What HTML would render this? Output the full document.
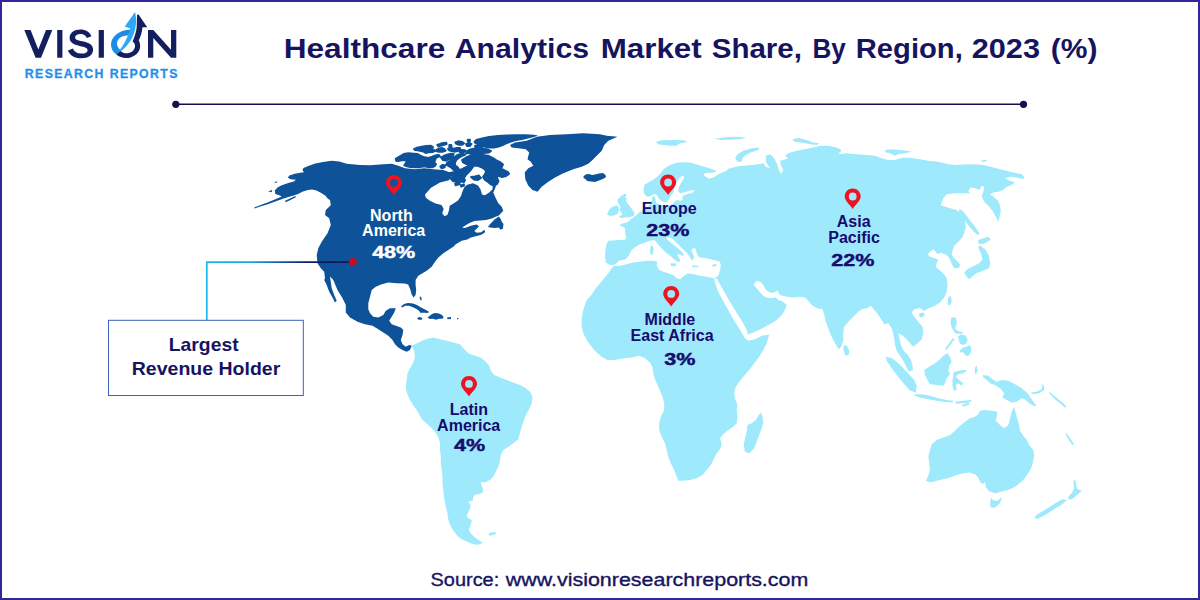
<!DOCTYPE html>
<html>
<head>
<meta charset="utf-8">
<title>Healthcare Analytics Market Share, By Region, 2023 (%)</title>
<style>
  html, body { margin: 0; padding: 0; background: #ffffff; }
  body { width: 1200px; height: 600px; overflow: hidden; position: relative; font-family: "Liberation Sans", sans-serif; }
  svg { position: absolute; left: 0; top: 0; display: block; }
  text { font-family: "Liberation Sans", sans-serif; }
  .lbl { font-weight: bold; font-size: 16px; fill: #150b70; text-anchor: middle; }
  .pct { font-weight: bold; font-size: 17.4px; fill: #150b70; stroke: #150b70; stroke-width: 0.45px; text-anchor: middle; }
  .w { fill: #ffffff; }
  text.pct.w { stroke: #ffffff; }
  .land { fill: #9fe9fc; }
  .na { fill: #0e529a; }
</style>
</head>
<body>
<svg width="1200" height="600" viewBox="0 0 1200 600">
  <defs>
    <linearGradient id="cg" x1="207" y1="0" x2="330" y2="0" gradientUnits="userSpaceOnUse">
      <stop offset="0" stop-color="#19b9ec"/>
      <stop offset="0.35" stop-color="#1aa6dc"/>
      <stop offset="0.62" stop-color="#17559c"/>
      <stop offset="0.8" stop-color="#0f1f6c"/>
      <stop offset="1" stop-color="#0d1660"/>
    </linearGradient>
    <g id="pin">
      <path fill-rule="evenodd" d="M0,20.4 C-2.2,16.6 -8,12.2 -8,7.9 C-8,3.4 -4.4,0 0,0 C4.4,0 8,3.4 8,7.9 C8,12.2 2.2,16.6 0,20.4 Z M0,4.0 A3.9,3.9 0 1 0 0,11.8 A3.9,3.9 0 1 0 0,4.0 Z" fill="#ee1320"/>
    </g>
  </defs>

  <!-- background + frame -->
  <rect x="0" y="0" width="1200" height="600" fill="#ffffff"/>
  <rect x="1" y="1" width="1198" height="598" fill="none" stroke="#30289a" stroke-width="2"/>

  <!-- MAP-START -->
  <g id="map">
    <path class="land" d="M411.7,345.8 415.0,344.2 420.0,341.7 425.8,339.2 433.3,337.5 440.0,339.2 446.7,340.8 453.3,342.5 460.0,344.2 463.3,348.3 468.3,353.3 475.0,355.8 480.8,357.5 485.8,361.7 489.2,365.8 490.8,370.8 494.2,375.0 500.0,377.5 506.7,380.0 513.3,382.5 520.0,385.0 525.8,388.3 530.8,392.5 532.5,397.5 531.7,403.3 529.2,409.2 525.8,415.0 523.3,421.7 521.7,426.7 520.0,433.3 518.3,439.2 513.3,443.3 508.3,446.7 503.3,450.0 500.8,455.0 500.0,460.8 498.3,466.7 495.8,471.7 493.3,476.7 490.0,480.0 485.0,482.5 480.8,481.7 481.7,485.8 483.3,490.0 482.3,492.9 475.3,494.7 473.0,497.0 473.0,500.5 468.3,501.7 470.7,505.2 469.5,509.8 467.2,514.5 467.2,517.4 471.8,520.3 470.7,525.0 468.9,529.7 470.7,533.2 474.2,536.7 478.8,540.2 482.9,542.5 480.0,544.3 476.5,544.8 471.8,543.7 466.0,541.3 460.2,538.4 456.1,534.3 452.6,529.7 449.7,523.8 447.9,518.0 447.3,512.2 445.6,506.3 444.5,500.5 443.8,494.7 443.3,490.0 442.5,483.3 442.5,476.7 441.7,470.0 440.8,463.3 440.8,456.7 440.0,450.0 440.0,443.3 438.3,436.7 434.2,430.8 428.3,425.0 422.5,420.0 420.0,415.8 416.7,410.0 412.5,404.2 409.2,398.3 406.7,392.5 405.8,386.7 406.7,380.0 407.5,373.3 410.0,368.3 413.3,362.5 415.0,356.7 414.2,350.8Z M488.2,534.3 490.5,532.6 495.8,532.2 495.8,534.1 492.8,535.3 489.3,535.5Z M608.2,240.8 615.2,240.3 625.1,239.7 626.3,237.3 625.1,232.7 625.1,228.0 619.3,225.1 623.3,223.3 627.4,222.2 631.5,218.7 636.2,215.2 641.0,211.0 646.0,207.5 651.0,204.0 652.0,199.5 652.3,196.8 654.2,196.2 655.5,198.0 655.6,200.7 656.8,203.6 661.0,205.0 666.0,205.5 672.0,204.5 675.8,200.6 678.0,200.0 680.5,201.0 683.0,199.2 681.9,197.0 684.0,195.2 687.5,194.0 692.5,192.8 695.0,190.2 691.0,190.3 686.3,191.8 680.0,193.2 678.3,191.0 679.0,187.0 681.0,183.0 683.5,179.0 684.2,176.5 682.5,175.6 679.8,177.6 677.2,181.3 675.2,185.3 674.5,188.8 673.5,192.2 670.8,195.8 669.3,198.6 667.5,201.8 664.5,202.2 662.0,201.2 660.0,199.8 658.5,198.0 657.3,195.8 655.4,194.1 652.5,194.9 649.0,196.7 645.5,196.1 643.8,192.6 643.8,188.5 644.3,185.0 647.8,182.7 652.5,180.3 657.2,176.8 660.7,173.3 663.0,169.8 666.5,166.9 671.2,164.6 677.0,162.8 684.0,162.3 691.0,162.8 696.8,164.6 702.7,166.3 708.5,168.1 713.8,169.8 716.7,171.6 712.0,172.8 707.3,172.8 703.3,173.9 705.0,176.3 708.5,178.6 712.0,178.0 715.5,176.3 719.0,173.9 722.5,172.2 726.0,171.0 728.3,168.7 733.0,167.5 740.0,166.0 745.0,165.8 751.7,165.0 758.3,164.2 763.3,163.3 765.8,166.7 770.0,168.3 765.8,161.7 765.8,155.8 770.0,154.2 774.2,158.3 776.7,163.3 778.3,168.3 780.8,174.2 783.3,170.0 780.8,165.0 780.0,160.8 783.3,160.0 788.3,158.3 785.0,155.8 788.3,153.3 796.7,150.8 805.0,149.2 813.3,147.5 820.0,145.8 828.3,145.8 836.7,147.5 841.7,150.0 838.3,154.2 846.7,153.3 856.7,154.2 866.7,155.0 875.0,155.8 881.7,158.3 888.3,160.0 895.0,160.0 903.3,157.5 911.7,158.0 920.0,159.2 928.3,160.8 938.3,161.7 948.3,164.2 956.7,165.0 966.7,164.2 973.3,164.2 983.3,165.0 993.3,167.5 1003.3,170.0 1013.3,172.5 1021.7,174.2 1024.2,176.7 1023.3,179.2 1016.7,177.5 1010.0,176.7 1005.0,178.3 1010.0,180.8 1015.0,182.5 1011.7,185.0 1006.7,186.7 1003.3,190.0 998.3,191.7 993.3,192.5 990.0,194.2 993.3,196.7 997.5,200.0 1000.0,205.0 1000.8,210.8 999.6,216.7 998.3,221.7 995.8,216.7 992.5,210.8 988.3,205.8 984.2,201.7 981.7,196.7 983.3,191.7 984.2,186.7 981.7,185.8 979.2,190.0 975.0,188.3 970.8,187.5 968.3,190.8 970.0,193.3 963.3,193.3 955.0,193.3 946.7,194.2 943.3,198.3 940.8,205.0 945.0,206.7 950.0,208.3 956.7,210.0 961.7,215.0 965.0,220.0 965.8,226.7 964.2,233.3 961.7,238.3 957.5,242.5 954.2,245.8 952.5,250.8 951.7,255.0 954.0,258.0 957.8,261.5 960.4,265.0 958.6,268.0 954.2,268.2 952.0,264.5 950.4,260.2 948.3,256.7 945.0,254.2 940.8,252.5 937.5,254.2 935.8,251.7 933.3,249.2 930.0,251.7 927.5,254.2 930.0,256.7 935.0,258.3 938.3,260.0 936.7,263.3 935.8,266.7 939.2,270.0 943.3,273.3 946.7,278.3 947.5,285.0 946.7,291.7 944.2,297.5 940.0,302.5 935.0,305.8 928.3,308.3 924.0,311.0 921.0,308.5 918.3,308.3 914.2,309.2 911.7,312.5 914.2,316.7 918.3,321.7 922.5,326.7 923.3,333.3 921.7,339.2 917.5,343.3 913.3,346.7 910.8,344.2 906.7,339.2 901.7,335.0 898.3,333.3 899.8,340.0 901.0,345.6 903.8,351.0 908.0,355.0 911.0,360.2 912.6,366.0 912.8,370.6 908.6,371.0 906.0,366.0 903.4,361.0 900.2,356.0 896.6,350.6 895.1,345.2 894.5,340.0 893.3,334.2 891.7,328.3 888.3,323.3 884.2,324.2 881.7,320.0 878.3,315.0 875.0,310.8 870.8,305.8 866.7,308.3 861.7,309.2 858.3,311.7 853.3,316.7 848.3,321.7 844.2,326.7 843.3,333.3 843.3,340.0 841.7,345.8 839.2,349.2 837.5,347.5 834.2,341.7 830.8,335.0 828.3,328.3 825.8,321.7 824.2,315.0 822.5,309.2 816.7,308.3 811.7,305.0 808.3,300.8 805.0,297.5 800.0,296.7 793.3,297.5 786.7,296.7 780.0,295.0 777.5,290.6 774.5,292.4 770.0,292.8 766.3,290.3 764.0,286.4 761.5,282.4 757.0,280.8 753.6,284.2 756.5,288.0 759.4,291.6 762.5,295.2 766.8,297.8 771.5,298.3 775.0,297.2 777.0,298.4 779.0,300.4 781.7,300.8 786.7,305.0 785.0,310.0 781.7,315.0 776.7,320.0 771.7,323.3 766.7,326.0 760.0,329.6 753.3,332.5 746.7,335.0 744.2,337.5 748.3,340.8 755.0,339.2 761.7,335.8 769.2,334.5 766.7,343.3 763.3,350.0 759.2,356.7 754.2,363.3 749.2,370.0 744.2,375.8 739.2,381.7 735.8,386.7 734.2,392.5 735.0,398.3 737.5,405.0 736.7,410.0 737.5,416.7 736.7,423.3 733.3,426.7 728.3,430.0 723.3,434.2 720.0,438.3 721.7,444.2 720.0,449.2 716.7,453.3 714.2,458.3 710.8,465.0 706.7,470.0 702.5,475.0 696.7,478.3 690.0,480.0 683.3,480.8 678.3,480.8 676.7,476.7 674.2,470.0 670.8,463.3 668.3,456.7 666.7,450.0 665.0,443.3 661.7,436.7 659.2,430.0 659.2,423.3 660.8,416.7 664.2,410.0 664.2,403.3 662.5,396.7 660.0,390.8 657.5,385.0 655.0,379.2 653.3,373.3 652.5,367.5 650.0,362.5 645.0,358.3 639.2,355.8 631.7,357.5 623.3,358.3 615.0,360.0 607.5,360.0 601.7,356.7 595.8,351.7 590.8,345.8 586.7,340.0 583.3,333.3 581.7,326.7 581.7,320.0 582.5,313.3 584.2,306.7 586.7,300.0 590.0,296.7 592.5,293.3 595.8,288.3 600.0,283.3 604.2,278.3 608.3,273.3 611.7,268.3 615.0,265.0 610.0,265.0 605.8,262.5 605.0,256.7 605.5,250.0 606.5,244.5Z M617.5,199.5 620.0,197.0 622.5,195.0 625.5,193.5 626.5,195.0 625.0,197.5 627.0,198.5 626.0,201.0 628.0,204.0 630.5,207.0 632.5,210.0 634.5,213.0 634.0,215.5 630.0,217.0 625.0,217.5 621.0,218.0 619.0,216.5 622.5,214.5 621.0,212.0 619.5,210.0 620.5,207.0 619.0,204.0 617.5,202.0Z M607.0,214.5 609.0,210.0 612.0,207.0 616.0,205.5 618.6,206.5 619.0,210.0 618.0,213.5 614.0,215.5 610.0,216.0Z M655.8,141.7 661.7,140.3 673.3,140.0 683.3,140.3 687.5,142.0 680.0,143.3 676.7,145.8 670.0,145.8 663.3,145.0 658.3,144.2Z M714.2,138.7 723.3,137.5 733.3,136.7 746.7,137.5 740.0,139.2 731.7,139.7 721.7,140.0Z M735.0,158.3 737.5,154.2 743.3,150.8 751.7,148.3 759.2,147.5 758.3,150.0 750.8,152.5 745.8,155.0 742.5,158.3 741.7,161.7 737.5,161.7Z M792.5,139.2 798.3,138.0 806.7,140.0 813.3,142.5 819.2,143.3 816.7,145.0 810.0,144.2 801.7,142.5 794.2,141.7Z M885.0,150.0 891.7,149.2 900.0,150.0 906.7,150.8 911.7,151.7 905.0,153.3 898.3,154.2 895.0,155.8 890.0,153.3 885.8,152.5Z M980.8,160.5 985.8,160.0 987.5,161.3 982.5,162.0Z M959.5,209.0 962.8,211.0 966.8,216.0 971.3,222.0 976.0,228.0 979.3,233.3 978.3,235.6 974.6,232.6 969.3,226.4 964.6,220.2 960.8,215.0 958.8,211.5Z M978.3,240.0 983.3,238.3 988.3,236.7 990.8,239.2 986.7,242.5 981.7,244.2 978.3,243.3Z M979.7,245.3 985.3,249.3 988.7,255.3 990.3,263.3 989.0,268.2 983.0,270.8 976.3,273.3 972.0,276.7 969.3,279.2 966.3,276.3 964.2,272.3 968.0,268.7 973.7,266.0 979.3,263.3 982.3,259.7 981.5,255.0 980.0,251.2 978.3,247.7Z M948.3,297.5 950.8,295.8 951.7,300.8 950.0,305.8 947.5,304.2Z M919.2,313.3 923.3,312.5 925.0,315.0 921.7,317.5 919.2,316.7Z M844.2,345.0 846.7,345.8 849.2,350.0 849.2,354.2 845.8,355.8 844.2,352.5 843.3,348.3Z M760.8,412.5 762.5,416.7 763.3,422.5 761.7,428.3 759.2,435.0 756.7,441.7 754.2,448.3 749.2,453.3 745.0,451.7 743.7,445.0 745.0,438.3 746.7,431.7 747.5,425.0 751.7,423.3 755.8,420.0 758.3,415.8Z M886.0,356.7 892.0,358.3 897.3,362.3 903.3,368.2 909.3,374.8 914.3,380.0 916.8,386.3 915.7,392.7 909.7,390.3 904.3,384.3 899.2,378.3 894.2,371.7 890.0,365.8 886.7,361.0Z M914.2,394.2 921.7,394.2 930.0,395.8 938.3,398.3 946.7,400.0 953.3,400.8 952.5,402.5 945.0,402.0 936.7,400.8 928.3,399.2 920.0,397.5 915.0,395.8Z M955.0,401.7 963.3,400.8 971.7,400.0 970.8,402.0 963.3,403.3 956.7,403.7Z M961.7,405.0 968.3,402.5 970.0,404.2 963.3,406.7Z M924.2,370.0 929.2,366.7 935.0,363.3 940.0,359.2 944.2,355.0 947.5,353.3 950.0,356.7 951.7,361.7 949.2,365.8 948.3,370.8 950.0,374.2 946.7,378.3 945.0,383.3 943.3,385.8 936.7,385.0 930.0,384.2 927.5,380.0 925.0,375.0Z M953.3,372.5 958.3,370.8 965.0,370.0 967.5,370.8 963.3,373.3 958.3,374.2 955.8,376.7 959.2,380.0 963.3,383.3 961.7,385.8 958.3,383.3 955.8,385.0 956.7,390.0 954.2,390.8 952.5,385.8 952.5,380.0 953.3,375.8Z M951.3,317.5 955.6,317.5 956.9,321.3 956.3,325.0 955.0,328.8 958.8,331.3 963.1,331.9 962.5,333.8 958.1,333.8 955.0,333.1 953.1,330.0 951.3,326.3 950.6,321.9Z M958.1,336.3 961.3,334.6 965.6,335.6 967.5,339.4 966.9,343.1 963.1,345.0 960.0,343.8 958.8,340.0Z M945.0,348.8 948.8,343.8 953.1,338.1 954.6,338.9 950.2,345.2 946.3,350.0Z M959.4,351.3 962.5,348.1 967.5,346.3 970.0,345.0 971.3,348.8 970.6,353.1 968.1,356.3 965.0,355.0 963.1,351.9 960.6,352.5Z M975.0,367.5 976.7,365.8 977.5,370.8 975.8,375.0 974.7,371.7Z M982.5,375.0 988.3,375.8 992.5,379.2 996.7,381.7 1001.7,380.0 1008.3,380.8 1015.0,384.2 1021.7,388.3 1026.7,392.5 1030.0,396.7 1033.3,401.7 1036.7,405.8 1033.3,405.8 1028.3,402.5 1025.0,399.2 1021.7,398.3 1016.7,401.7 1011.7,402.5 1006.7,400.0 1002.5,397.5 1004.2,393.3 1000.0,388.3 995.0,385.0 990.0,383.3 986.7,380.0 983.3,377.5Z M1030.8,392.5 1036.7,391.7 1041.7,389.2 1042.5,385.8 1040.0,383.3 1044.2,385.8 1044.2,390.0 1039.2,393.3 1033.3,394.2Z M1048.3,390.8 1053.3,395.0 1058.3,399.2 1063.3,403.3 1066.7,406.7 1065.0,407.5 1060.0,403.3 1055.0,399.2 1050.0,394.2Z M925.8,480.8 928.3,475.8 930.0,470.0 929.2,463.3 928.3,456.7 930.0,450.0 931.7,444.2 936.7,440.0 943.3,437.5 950.0,435.0 955.0,430.8 960.0,425.8 965.0,421.7 970.0,418.3 975.0,416.7 978.3,414.2 980.0,410.8 985.0,410.0 991.7,410.8 997.5,411.7 996.7,416.7 995.8,420.8 1000.0,425.0 1004.2,428.3 1008.3,425.0 1010.0,418.3 1011.7,411.7 1014.2,406.7 1015.8,413.3 1017.5,419.2 1019.2,425.0 1020.0,430.8 1023.3,435.8 1026.7,440.0 1029.2,445.0 1033.3,450.0 1034.2,455.0 1033.3,460.8 1031.7,466.7 1029.2,471.7 1025.8,476.7 1022.5,480.8 1018.3,484.2 1015.0,486.7 1010.0,489.2 1005.0,490.8 1000.0,491.7 996.7,493.3 992.5,492.5 988.3,490.8 985.8,486.7 985.0,481.7 982.5,484.2 980.0,481.7 978.3,477.5 975.0,474.2 969.2,472.5 963.3,473.3 956.7,475.0 950.0,477.5 943.3,479.2 936.7,480.8 930.8,482.5Z M1065.8,431.7 1068.3,435.8 1071.7,440.8 1074.2,444.2 1072.5,445.0 1069.2,440.8 1066.3,435.8Z M990.9,497.4 993.2,500.3 997.3,500.9 1000.2,498.6 1001.4,496.8 1001.4,499.8 999.7,503.2 996.8,506.2 993.2,507.9 990.6,507.3 990.1,503.8 990.6,500.3Z M1073.2,480.5 1075.5,480.5 1076.1,485.2 1077.2,488.7 1081.9,491.0 1079.0,493.3 1075.5,496.2 1072.0,499.2 1069.1,499.8 1067.9,497.4 1069.7,495.1 1072.0,492.8 1073.8,489.2 1073.8,484.6Z M1067.9,499.8 1065.0,501.5 1062.7,503.8 1059.2,506.2 1054.5,509.1 1049.8,512.0 1045.2,514.9 1040.5,517.2 1037.0,519.0 1034.7,517.8 1035.8,515.5 1040.5,512.6 1045.2,509.7 1049.8,506.8 1054.5,503.8 1059.2,500.9 1062.7,499.2 1065.0,499.8Z"/>
    <path class="w" d="M613.0,264.8 615.0,264.2 619.2,260.8 625.8,259.2 629.2,255.0 631.7,250.0 635.8,246.7 640.0,244.2 645.0,242.5 650.0,240.8 654.2,240.0 656.7,242.5 659.2,245.8 662.5,249.2 665.8,252.5 669.2,255.0 673.0,258.3 676.5,261.3 679.3,262.3 680.3,260.0 678.3,257.0 677.0,254.6 680.0,254.2 682.8,256.3 683.8,254.5 681.5,251.5 678.0,248.5 674.5,245.5 671.0,242.8 668.0,240.2 666.0,237.8 669.0,237.6 673.0,239.3 676.3,242.5 679.5,245.8 683.0,249.2 686.5,252.5 689.5,256.5 692.0,260.5 694.3,258.0 693.0,254.0 691.5,251.0 692.5,248.6 695.5,248.6 696.3,251.7 697.5,255.0 700.0,257.5 706.7,258.3 713.3,260.0 720.0,261.7 720.8,265.8 720.0,270.8 718.3,275.8 714.2,278.3 706.7,276.7 700.0,275.8 693.3,274.2 688.3,273.3 684.2,275.8 680.0,279.2 676.7,278.3 673.3,275.0 668.3,273.3 663.3,271.7 659.2,270.0 656.7,265.8 657.5,261.7 653.3,260.8 646.7,260.8 640.0,261.7 633.3,262.5 626.7,264.2 620.0,265.8 615.8,266.0Z M714.0,278.3 717.0,278.8 720.5,285.3 724.8,292.8 729.0,300.3 733.0,306.8 737.2,313.8 741.4,320.3 745.6,327.6 748.0,333.3 745.3,338.3 742.6,334.2 738.8,327.8 734.5,321.3 730.3,313.8 726.0,306.3 722.0,298.8 718.0,291.3 715.5,284.3Z"/>
    <path class="land" d="M650.7,246.0 653.0,245.5 653.6,250.0 652.5,254.5 650.5,254.5 650.0,250.0Z M670.5,263.3 676.5,263.6 675.3,266.6 671.0,266.0Z M692.0,265.5 698.5,265.8 698.5,267.3 692.0,267.0Z M712.0,265.0 716.5,263.8 716.0,266.3 712.5,266.6Z"/>
    <path class="na" d="M254.2,207.4 261.3,204.7 268.8,202.0 276.4,198.8 281.8,196.6 278.6,195.0 275.3,193.9 274.8,190.6 277.5,187.4 281.8,185.2 288.3,183.0 293.8,181.4 295.9,179.8 290.5,179.3 287.8,177.6 289.4,175.5 294.8,173.8 300.3,172.8 304.0,172.2 302.4,170.0 303.5,167.9 308.9,165.7 315.4,163.5 323.0,161.9 331.7,160.8 339.3,161.4 346.7,163.7 360.0,165.0 370.0,165.3 383.3,164.2 391.7,163.7 398.3,165.8 405.0,168.3 415.0,169.2 424.2,168.3 433.3,169.2 443.3,170.0 453.0,173.5 449.0,180.2 440.0,182.5 431.0,187.7 425.0,194.5 425.7,197.5 429.5,200.5 435.5,203.5 441.5,205.0 443.7,208.7 442.2,213.2 444.5,216.2 447.5,214.7 449.0,210.2 449.7,205.7 453.5,203.5 458.0,200.5 461.0,196.0 462.5,191.5 464.0,187.7 467.0,184.7 473.0,183.2 478.0,185.5 480.5,189.2 482.0,194.5 485.0,195.2 489.5,192.2 492.5,189.2 493.3,181.0 495.8,186.7 493.3,192.5 495.8,198.3 498.3,203.3 501.7,206.7 503.3,210.8 500.0,214.2 498.8,215.5 495.0,217.0 491.8,218.4 486.0,219.9 480.2,220.5 474.3,221.1 468.5,223.4 462.1,227.5 465.0,228.1 470.8,225.8 476.7,224.6 479.0,226.3 476.7,228.7 474.3,231.0 476.7,232.8 481.3,232.2 484.3,229.8 485.2,232.2 481.3,234.7 476.7,235.9 470.8,237.6 467.3,239.4 461.7,240.8 455.8,244.2 453.3,246.7 448.3,250.0 443.3,253.3 438.3,257.5 435.0,261.7 431.7,266.7 426.7,270.8 422.5,273.3 418.3,275.8 415.6,280.0 415.6,285.0 416.2,290.0 415.6,295.0 413.6,297.6 411.6,294.3 410.2,289.3 408.2,284.6 404.6,283.6 396.7,283.3 388.3,282.5 381.7,284.2 375.8,286.7 371.7,290.0 370.0,296.7 368.3,303.3 368.3,309.2 370.0,313.3 373.3,316.7 378.3,317.5 383.3,315.0 385.8,310.8 390.0,308.3 395.8,308.3 394.2,312.5 391.7,316.7 389.2,320.8 391.7,324.2 395.8,325.8 400.8,327.5 403.3,330.0 402.5,335.0 400.8,340.0 402.5,344.2 405.8,346.7 409.2,345.0 411.7,345.8 410.0,350.0 406.7,351.7 402.5,350.0 398.3,347.5 395.0,344.2 392.5,340.0 388.3,335.8 383.3,332.5 378.3,329.2 372.5,325.8 365.0,324.2 357.5,321.7 350.0,317.5 345.8,312.5 345.8,305.0 342.5,298.3 337.5,290.0 333.3,280.0 330.0,276.5 331.7,288.3 334.2,295.0 336.7,300.8 335.0,302.5 332.5,297.5 329.2,291.7 326.7,285.0 324.2,280.0 325.0,278.3 324.2,271.7 320.8,268.3 317.5,263.3 316.7,255.0 318.3,248.3 321.7,241.7 327.5,233.3 330.8,225.0 329.2,218.3 325.0,215.0 325.8,210.0 329.2,206.7 330.8,205.0 330.0,200.0 327.9,198.8 325.2,195.5 320.8,192.8 316.5,190.6 312.2,189.5 307.8,190.1 302.4,191.7 298.1,193.9 293.8,195.5 288.3,197.1 282.9,198.8 275.3,201.5 267.8,204.2 260.2,206.5 254.5,208.4Z M510.0,145.0 515.0,142.5 526.7,140.8 536.7,136.7 550.0,135.0 566.7,134.2 583.3,133.3 600.0,134.2 606.7,135.8 617.5,136.7 608.3,140.8 604.2,145.0 601.7,150.8 596.7,155.8 592.5,160.0 588.3,163.7 581.7,166.7 573.3,169.2 563.3,173.3 555.0,177.5 548.3,181.7 541.7,186.7 537.5,191.7 532.5,190.0 528.3,185.8 525.3,179.2 524.7,172.5 528.3,168.3 533.3,165.8 530.8,161.7 527.5,159.2 529.2,152.5 525.8,149.2 518.3,148.3 511.7,147.5Z M583.5,176.5 585.5,174.5 589.0,174.0 592.0,175.0 595.0,174.5 599.0,173.5 603.0,173.0 605.5,175.0 606.0,177.0 603.0,179.0 599.0,180.5 595.0,182.0 591.0,181.5 587.0,181.0 585.5,179.0 583.5,178.0Z M284.5,200.9 290.5,198.2 295.4,196.0 295.9,197.3 290.5,200.0 286.2,202.0Z M274.0,182.2 277.2,181.2 276.6,183.0Z M268.0,191.2 272.3,190.1 271.7,192.2Z M487.8,226.9 490.7,223.4 494.8,219.3 498.8,216.6 500.6,218.8 501.8,221.7 503.5,224.0 502.9,228.7 500.6,229.8 498.8,227.5 495.3,228.1 491.8,227.7Z M401.0,306.5 404.0,304.0 408.0,303.0 413.0,303.5 417.0,305.0 421.0,307.5 425.0,309.5 428.7,311.5 428.2,313.0 424.0,312.7 420.0,312.7 419.3,311.0 417.0,309.2 413.0,307.2 409.0,305.7 405.0,305.7 402.5,307.4Z M419.5,297.0 421.0,296.5 421.8,300.0 420.5,300.5Z M427.5,317.5 429.5,316.0 432.0,314.0 435.0,313.0 439.0,313.5 442.0,315.0 443.6,317.0 442.6,318.7 439.0,318.7 436.0,319.7 433.0,318.7 430.0,319.0Z M417.0,318.0 419.5,316.9 422.5,318.0 421.5,319.7 418.5,319.7Z M447.0,317.4 451.0,317.1 451.0,319.1 447.5,319.3Z M457.0,318.0 458.4,318.0 458.4,319.2 457.0,319.2Z M473.5,141.5 476.0,139.0 482.0,137.5 489.0,136.0 498.0,135.0 507.0,134.5 516.0,134.2 525.0,134.2 534.0,134.8 538.0,135.5 534.0,137.0 528.0,138.5 522.0,140.0 516.0,141.0 511.0,142.5 507.0,144.0 503.0,146.0 499.0,147.5 494.0,148.5 489.0,148.5 484.0,147.5 480.0,146.0 476.0,144.5 474.0,143.0Z"/>
    <path class="na" stroke="#0e529a" stroke-width="1.9" stroke-linejoin="round" d="M452.8,177.9 456.8,176.2 459.2,178.5 455.1,180.8Z M455.1,183.8 459.2,182.6 459.8,184.1 455.7,185.3Z M460.9,185.5 463.8,184.3 464.1,185.7 461.3,186.7Z M395.7,158.7 399.0,156.7 403.7,154.0 408.3,153.3 413.7,153.7 417.7,154.0 421.0,156.0 424.3,157.3 428.3,158.0 432.3,156.7 435.7,155.3 439.0,155.0 439.7,156.3 436.3,157.7 435.0,160.0 434.3,162.7 436.0,164.0 435.0,166.0 432.3,167.3 428.3,167.3 425.0,166.3 421.7,166.7 418.3,167.3 414.3,167.3 410.3,167.0 407.0,166.3 404.3,165.3 405.7,163.3 406.7,161.3 405.0,160.0 401.7,160.3 398.3,161.0 396.0,160.7Z M414.0,149.0 417.0,147.7 421.7,146.7 426.3,146.0 431.0,145.7 433.0,147.0 431.0,148.7 433.7,149.7 435.0,151.0 432.3,152.0 428.3,152.3 425.7,153.0 423.7,151.7 421.0,151.0 417.7,150.3 415.0,150.0Z M437.3,145.0 441.7,143.3 446.3,142.7 446.7,144.0 442.3,145.3 438.3,146.3Z M436.0,150.3 438.3,148.7 441.7,148.0 444.3,149.0 445.7,150.7 443.0,151.7 439.0,151.7 436.7,151.3Z M448.0,148.7 450.3,147.7 453.7,148.7 457.0,148.0 460.0,148.0 460.3,149.7 457.7,151.0 454.3,151.7 451.7,151.0 449.0,150.3Z M455.3,142.3 458.3,141.3 462.3,142.0 464.0,143.3 462.3,144.7 458.3,144.7 456.0,143.7Z M449.3,145.0 451.3,145.0 451.7,146.7 449.3,146.7Z M467.7,139.7 470.0,139.7 470.0,141.0 467.7,141.0Z M459.3,151.0 461.7,150.0 465.0,150.3 465.7,151.7 462.3,152.5 459.7,152.1Z M441.0,157.3 443.7,156.0 447.0,154.7 451.0,153.7 453.7,154.0 453.0,156.0 451.0,158.0 448.3,159.7 445.7,160.7 443.0,160.0 441.7,158.7Z M455.0,156.7 457.7,154.7 461.7,154.0 465.7,154.3 462.3,156.0 459.0,157.7 456.3,160.0 455.0,162.7 455.0,165.3 457.7,167.3 459.0,169.3 456.3,171.3 453.7,170.0 451.0,167.3 448.3,166.0 446.3,164.7 447.0,162.7 449.7,161.3 452.3,159.3Z M440.3,166.7 442.3,165.0 445.0,165.3 444.7,167.3 441.7,168.3Z M459.0,171.3 461.7,169.3 464.0,168.0 468.0,166.5 472.0,165.5 473.0,167.0 470.3,169.5 467.5,171.5 465.5,174.0 462.0,175.0 459.5,174.5Z M466.0,151.5 470.0,149.5 475.0,148.5 482.0,148.5 488.0,149.5 491.0,151.0 489.0,152.5 483.0,153.0 477.0,153.2 471.0,153.5 467.0,153.0Z M466.0,144.0 469.0,142.5 471.5,144.0 470.0,146.0 467.0,146.0Z M475.0,146.0 480.0,145.0 484.0,146.0 480.0,147.8 475.5,147.5Z M462.0,160.0 466.0,157.5 471.0,155.5 477.0,155.0 483.0,155.0 489.0,156.0 493.0,158.0 496.0,160.0 500.0,162.0 503.0,164.5 502.0,167.0 500.0,168.5 504.0,170.0 508.0,172.0 509.0,174.0 506.0,176.0 502.0,177.0 498.0,175.5 497.0,178.0 498.5,181.0 497.0,184.0 494.0,186.0 491.0,184.5 488.0,182.0 485.0,180.0 483.0,177.0 485.0,174.0 486.0,172.0 485.0,169.5 481.0,167.0 477.0,165.5 473.0,166.0 470.0,165.0 466.0,164.0 463.0,162.5Z M471.0,177.0 475.0,176.5 479.0,175.5 481.0,178.0 478.0,180.0 474.0,179.5Z M460.0,178.0 463.0,177.0 465.0,180.0 464.0,182.0 460.0,181.5Z M440.2,171.7 448.3,173.4 455.3,171.7 460.0,169.9 464.7,168.2 469.3,167.0 471.7,168.8 469.3,171.7 465.8,175.2 463.5,178.7 460.0,181.0 456.5,182.2 453.0,181.0 450.7,178.7 453.0,175.2 448.3,174.6Z"/>
  </g>
  <!-- MAP-END -->

  <!-- title -->
  <g id="title" font-size="27" font-weight="bold" fill="#17145f">
    <text x="283.7" y="58.4" textLength="161.6" lengthAdjust="spacingAndGlyphs">Healthcare</text>
    <text x="454.7" y="58.4" textLength="134.5" lengthAdjust="spacingAndGlyphs">Analytics</text>
    <text x="600.8" y="58.4" textLength="100.9" lengthAdjust="spacingAndGlyphs">Market</text>
    <text x="711.7" y="58.4" textLength="90.3" lengthAdjust="spacingAndGlyphs">Share,</text>
    <text x="812.5" y="58.4" textLength="33.3" lengthAdjust="spacingAndGlyphs">By</text>
    <text x="855.8" y="58.4" textLength="107.0" lengthAdjust="spacingAndGlyphs">Region,</text>
    <text x="971.7" y="58.4" textLength="68.3" lengthAdjust="spacingAndGlyphs">2023</text>
    <text x="1050.8" y="58.4" textLength="46.7" lengthAdjust="spacingAndGlyphs">(%)</text>
  </g>

  <!-- rule -->
  <line x1="176" y1="104.3" x2="1023.5" y2="104.3" stroke="#15104e" stroke-width="1.6"/>
  <circle cx="175.8" cy="104.3" r="3.6" fill="#15104e"/>
  <circle cx="1023.5" cy="104.3" r="3.6" fill="#15104e"/>

  <!-- callout -->
  <path d="M206.8,320 L206.8,262.1" stroke="#19b9ec" stroke-width="1.7" fill="none"/>
  <path d="M206,262.1 L352,262.1" stroke="url(#cg)" stroke-width="1.7" fill="none"/>
  <circle cx="352.8" cy="262.1" r="4" fill="#c4101c"/>
  <rect x="108.5" y="320.3" width="194.8" height="75.2" fill="#ffffff" stroke="#3d62b8" stroke-width="1"/>
  <text transform="translate(203.7,350.5) scale(1.05,1)" font-size="18.4" font-weight="bold" fill="#17145f" text-anchor="middle">Largest</text>
  <text transform="translate(206,374.8) scale(1.06,1)" font-size="18.4" font-weight="bold" fill="#17145f" text-anchor="middle">Revenue Holder</text>

  <!-- pins -->
  <use href="#pin" x="393.9" y="174.9"/>
  <use href="#pin" x="668.1" y="174.6"/>
  <use href="#pin" x="852.7" y="188.6"/>
  <use href="#pin" x="671.2" y="286"/>
  <use href="#pin" x="469" y="376"/>

  <!-- labels -->
  <text class="lbl w" x="391.4" y="220.5">North</text>
  <text class="lbl w" x="393.7" y="236.1">America</text>
  <text class="pct w" transform="translate(393.7,258.1) scale(1.24,1)">48%</text>

  <text class="lbl" x="669.2" y="213.5">Europe</text>
  <text class="pct" transform="translate(667.8,236.1) scale(1.24,1)">23%</text>

  <text class="lbl" x="853.7" y="227.2">Asia</text>
  <text class="lbl" x="854.1" y="243">Pacific</text>
  <text class="pct" transform="translate(852.9,265.7) scale(1.24,1)">22%</text>

  <text class="lbl" x="669.9" y="324.5">Middle</text>
  <text class="lbl" x="672.1" y="340.5">East Africa</text>
  <text class="pct" transform="translate(679.8,365.2) scale(1.24,1)">3%</text>

  <text class="lbl" x="468.9" y="414.5">Latin</text>
  <text class="lbl" x="468.7" y="430.5">America</text>
  <text class="pct" transform="translate(469.6,451.2) scale(1.24,1)">4%</text>

  <!-- source -->
  <g id="src" font-size="18.3" fill="#17145f" stroke="#17145f" stroke-width="0.35">
    <text x="430.6" y="586.2" textLength="68.6" lengthAdjust="spacingAndGlyphs">Source:</text>
    <text x="505.8" y="586.2" textLength="302.5" lengthAdjust="spacingAndGlyphs">www.visionresearchreports.com</text>
  </g>

  <!-- LOGO-START -->
  <g id="logo">
    <!-- V -->
    <path d="M24.3,30 L30.6,30 L38.3,49.5 L46,30 L52.3,30 L41,57.7 L35.6,57.7 Z" fill="#131f5e"/>
    <!-- I -->
    <rect x="57.2" y="30" width="5.2" height="27.7" fill="#131f5e"/>
    <!-- S -->
    <path d="M91.5,36.2 C89.6,31.9 85.6,29.5 80.6,29.5 C74.2,29.5 69.6,32.9 69.6,37.8 C69.6,42.6 73.4,44.6 79.6,45.9 C85.2,47.1 87.6,47.9 87.6,50.2 C87.6,52.3 85.1,53.6 81.3,53.6 C77.1,53.600000000000001 74.2,51.8 72.9,48.6 L67.9,50.4 C69.9,55.4 74.6,58.2 81.1,58.2 C88.4,58.2 93.1,54.9 93.1,49.7 C93.1,44.5 89,42.6 82.3,41.2 C77.1,40.1 75.1,39.4 75.1,37.4 C75.1,35.4 77.2,34.1 80.5,34.1 C83.5,34.1 85.7,35.4 86.9,37.9 Z" fill="#131f5e"/>
    <!-- I -->
    <rect x="98.7" y="30" width="5.2" height="27.7" fill="#131f5e"/>
    <!-- O drop -->
    <path d="M130.5,29.6 C120,30 111,36.5 111,44.5 C111,48.6 113,52.2 116.3,54.6 L120.6,50 C118.3,48.3 117,45.8 117,43.4 C117,38.6 122,35.3 129.2,35.2 Z" fill="#1c8ce8"/>
    <path d="M135,12 C137.2,20 136.2,29.5 132,38 C128.3,45.2 122.4,51 116.3,54.4 C121.6,48 127.3,39.5 130.3,28.4 L124.8,26.6 Z" fill="#2ba9f4"/>
    <path d="M138.4,14.3 L147.2,27.2 L142.5,27.2 C142,32.2 140.6,36.7 138.8,40.2 C140,42.6 140.7,46 139.7,49.2 C138.1,54.2 132.3,58 126,58 C122.2,58 119,56.800000000000004 116.3,54.6 L120.4,51 C122.3,52.7 124.8,53.5 127.4,53.3 C131.5,52.9 134.6,50.4 135,46.6 C135.2,44.2 134.2,42.8 132.6,41.6 C134.6,36.7 136.3,31.7 136.7,27.2 L137,15.3 Z" fill="#131f5e"/>
    <!-- N -->
    <path d="M148,57.7 L148,30 L153.3,30 L171,49.7 L171,30 L176.3,30 L176.3,57.7 L171,57.7 L153.3,38 L153.3,57.7 Z" fill="#131f5e"/>
    <text x="24.8" y="78.2" font-size="12.3" font-weight="bold" fill="#1e90ea" stroke="#1e90ea" stroke-width="0.3" textLength="152.6" lengthAdjust="spacing">RESEARCH REPORTS</text>
  </g>
  <!-- LOGO-END -->
</svg>
</body>
</html>
